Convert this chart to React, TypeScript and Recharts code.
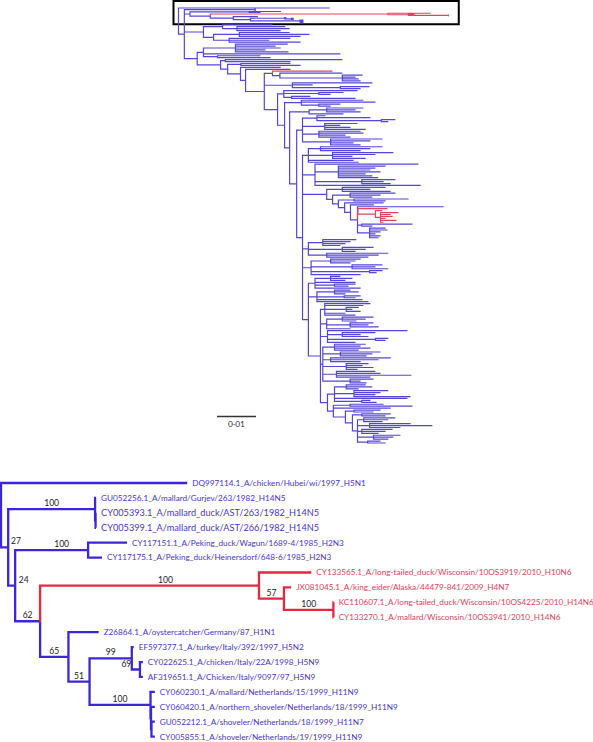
import React from 'react';
import { ComposedChart, Line, Scatter, XAxis, YAxis, ReferenceArea, ReferenceLine } from 'recharts';

// Phylogeny drawn as a rectangular tree. Branch lengths are in 0.001 subst./site.
// Lower panel = the boxed clade, upper panel = the whole tree.

const RED_TAXA = [
  'CY133565.1_A/long-tailed_duck/Wisconsin/10OS3919/2010_H10N6',
  'JX081045.1_A/king_eider/Alaska/44479-841/2009_H4N7',
  'KC110607.1_A/long-tailed_duck/Wisconsin/10OS4225/2010_H14N6',
  'CY133270.1_A/mallard/Wisconsin/10OS3941/2010_H14N6',
];
const LARGE_LABELS = [
  'CY005393.1_A/mallard_duck/AST/263/1982_H14N5',
  'CY005399.1_A/mallard_duck/AST/266/1982_H14N5',
];

// boxed clade (newick, node label = bootstrap support)
const CLADE_H = '(KC110607.1_A/long-tailed_duck/Wisconsin/10OS4225/2010_H14N6:0.05,CY133270.1_A/mallard/Wisconsin/10OS3941/2010_H14N6:0.05)100';
const CLADE_G = `(JX081045.1_A/king_eider/Alaska/44479-841/2009_H4N7:1.5,${CLADE_H}:10.3)57`;
const CLADE_F = `(CY133565.1_A/long-tailed_duck/Wisconsin/10OS3919/2010_H10N6:10.9,${CLADE_G}:5.2)100`;
const CLADE_L = '(CY022625.1_A/chicken/Italy/22A/1998_H5N9:0.6,AF319651.1_A/Chicken/Italy/9097/97_H5N9:0.6)69';
const CLADE_J = `(EF597377.1_A/turkey/Italy/392/1997_H5N2:0.4,${CLADE_L}:1.7)99`;
const CLADE_K = '(CY060230.1_A/mallard/Netherlands/15/1999_H11N9:0.9,(CY060420.1_A/northern_shoveler/Netherlands/18/1999_H11N9:0.8,(GU052212.1_A/shoveler/Netherlands/18/1999_H11N7:0.7,CY005855.1_A/shoveler/Netherlands/19/1999_H11N9:0.7):0.1):0.1)100';
const CLADE_I = `(${CLADE_J}:8.8,${CLADE_K}:12.7)51`;
const CLADE_E = `(Z26864.1_A/oystercatcher/Germany/87_H1N1:6.3,${CLADE_I}:4.4)65`;
const CLADE_D = `(${CLADE_F}:45.6,${CLADE_E}:5.9)62`;
const CLADE_P = '(CY117151.1_A/Peking_duck/Wagun/1689-4/1985_H2N3:8.1,CY117175.1_A/Peking_duck/Heinersdorf/648-6/1985_H2N3:2.9)100';
const CLADE_C = `(${CLADE_P}:15.2,${CLADE_D}:5.2)24`;
const CLADE_B = '(GU052256.1_A/mallard/Gurjev/263/1982_H14N5:0.2,(CY005393.1_A/mallard_duck/AST/263/1982_H14N5:0.1,CY005399.1_A/mallard_duck/AST/266/1982_H14N5:0.1):0.1)100';
const CLADE_A = `(${CLADE_B}:18.1,${CLADE_C}:1.45)27`;
const BOX_TREE = `(DQ997114.1_A/chicken/Hubei/wi/1997_H5N1:38.8,${CLADE_A}:1.5)`;

// rest of the big tree, hanging off node "27" (unnamed tips, "r" = red tip)
const N19 = '((:8.1,:6.3,:4.8):1.6,(:10.5,:16.1,:7.9):3.1,(:7.9,:6.1,:4.3):1.1,(:6.9,:5.1,:3.8):4.1,(:3.3,:4.6):2.6)';
const N18 = `((:7.4,:6.1):2.4,${N19}:1.3)`;
const N17 = `((:6.8,:5):2.2,${N18}:1.8)`;
const N16 = `((:8.6,:16):4.3,:14.7,${N17}:3.1)`;
const K13 = '((:5,:6.7,:3.2):3,(:8.8,:6.8,:5.5,:14.5):5,:18.7,(:2.2,:3.8):7)';
const N15 = `(${K13}:1.8,${N16}:1.5)`;
const K9 = '(:11.7,:9.9,(:3.2,:1.6,:3.7):5.5,:5.3,:7.9)';
const K10 = '((:8,:6,:3.6):4,(:6,:4.7,:7.3):6,:6.1)';
const K11 = '(:20.5,(:8.5,:4.7,:6.7):3.8,(:3.3,:2.6):12.3,:7.2)';
const K12 = '((:8,:6.7,:9.2,:6.2):3,(:10.3,:8.2,:6.7):4.5,(:15.4,:12.3,:7.7):2,(:5.7,:4.2,:7,:2.9):6,(:10,:11.3,:19.2,:8.7):3.5,(:6,:2.7,:4.2):7)';
const N14 = `(${K9}:1.1,${K10}:1.6,${K11}:1.8,${K12}:0.6,${N15}:1.8)`;
const K7 = '((:2.5,:5.6,:3.8):4,:10.4,(:5.4,:3.6):5,:11.7)';
const K8 = '((:4.1,:6.2,:2.8):4.5,(:4.2,:2.9):7,:11.7,:13.2)';
const N13 = `(${K7}:1.7,${K8}:2.2,${N14}:3.1)`;
const K1 = '((:15.9,:12.8,:10.3):3.1,(:15.6,:11,:5.1,:8.5):6.2,:11.6,:12.9)';
const K2 = '(:26.5,(:12.1,:9.5,:8.2,:10.8,:7,:8.7,:10.2):6,(:8.6,:5.6,:7.4):12,:27.1)';
const M = '(:22.1,(r:7.6,(r:1.8,(r:4.6,r:2.6,r:3.1,r:1.3,r:4.1,r:0.8):1.3):4.5):0.1,(:13,:2.7):1.1,(:4.1,:4.6,:2.8,:1.5,:2.8,:2.3):3.1)';
const LD5 = `(:6,${M}:1.8)`;
const LD4 = `(:10,${LD5}:1.5)`;
const LD3 = `((:14,:8.1):4,${LD4}:1.6)`;
const LD2 = `((:11.6,:7.8,:5.7):4.5,${LD3}:1.5)`;
const LAD = `((:11.1,:7.2,:12.4):4,${LD2}:1.5)`;
const K5 = '((:8.6,:7.1,:5.8,:4.5):3.7,(:8,:6,:3.4):8.7,(:15.8,:13.3,:10.7):4.7)';
const K6 = '((:7.7,:6.4,:5.1):5,(:7.8,:6,:9.3):10.5,(:3.3,:1.8):15,:12.7)';
const N12 = `(${K1}:1.5,${K2}:3.2,${LAD}:6.2,${K5}:1.5,${K6}:2.2,${N13}:1.5)`;
const S11 = '((:2.2,:13.7,(:3.6,:1.8):16.5):3.7,(:8.4,:4,:6.6,:10.5):5.7,(:10.7,:11.4,:6.8,:8.1):4.2,(:13.3,:10.2,:5.9,:7.7):7.2)';
const N11 = `(${S11}:1.5,${N12}:1.5)`;
const N10 = `(((:9.4,:7.4,:8.7):4.5,:8.8):5,${N11}:1.8)`;
const N9 = `((:15.9,:19,(:5.5,:3):4.5):4.3,${N10}:1.3)`;
const N8 = `((:18.9,(:6.3,:3):9,(:4.8,:16.4):2):1.6,${N9}:1.8)`;
const Q = '(r:15.4,(:16,(:5.2,:3.4,:4.2,:4.7):16):1.9)';
const L85 = '(:20.5,:5.2,(:7.5,:5.2):12.3)';
const N7 = `(${Q}:2.1,${L85}:7.2,${N8}:3.4)`;
const N6 = `(:11.5,${N7}:4.8)`;
const N5 = `(:10.3,${N6}:1.3)`;
const N4 = `((:12.7,:15.3):3.4,${N5}:3.3)`;
const N3 = `((:30,:16.7):1.2,${N4}:1.8)`;
const C2 = '((:13.4,:10.3,:11.6,:7.7,:13.6):8.2,:35.1,(:11,:13.6):3.6)';
const N2 = `(${C2}:1.6,${N3}:6)`;
const C1 = '((:12.8,(:12.4,:13.5,:11.2):3.7):4.9,((:12.9,:18,:15.7):6.6,(:15.7,:10.3,:18.3):4):2.6)';
const REST = `(${C1}:4.9,${N2}:3.3)`;

const SCALE_BAR = 0.01;
const UNIT = 0.001;

// label nudges (px) where the support value would collide with a line
const NUDGE: Record<string, number> = {
  '27@GU052256.1': 11.5,
  '24@CY117151.1': 12,
  '100@CY117151.1': 10,
  '100@CY133565.1': 16,
  '69@CY022625.1': -9.5,
};

const W = 593;
const TOP_H = 460;
const BOT_H = 282;
const TOP_ROOT_PX = 178.5;
const TOP_PXU = 3.9;
const TOP_Y0 = 8;
const TOP_Y1 = 443;
const BOX_ROW_STEP = 0.45;
const BOT_ROOT_PX = 1;
const BOT_PXU = 4.8;
const BOT_Y0 = 23;
const BOT_ROW = 14.92;

const BLUE = '#3b27d8';
const BLUE_TEXT = '#4736d2';
const RED = '#e8263f';
const RED_TEXT = '#e5405a';
const TOP_BLUE = '#5446d8';
const TOP_RED = '#e4425f';

type TNode = {
  name: string;
  len: number;
  children: TNode[];
  x: number;
  y: number;
  parent?: TNode;
  red: boolean;
  compact: boolean;
};

function parseNewick(s: string): TNode {
  let i = 0;
  const readLabel = () => {
    let t = '';
    while (i < s.length && !',:()'.includes(s[i])) t += s[i++];
    return t.trim();
  };
  const node = (): TNode => {
    const n: TNode = { name: '', len: 0, children: [], x: 0, y: 0, red: false, compact: false };
    if (s[i] === '(') {
      i++;
      n.children.push(node());
      while (s[i] === ',') {
        i++;
        n.children.push(node());
      }
      i++;
    }
    n.name = readLabel();
    if (s[i] === ':') {
      i++;
      n.len = parseFloat(readLabel());
    }
    return n;
  };
  return node();
}

function layout(root: TNode, step: (n: TNode) => number) {
  let row = -1;
  let first = true;
  const walk = (n: TNode, x: number, parent?: TNode) => {
    n.x = x;
    n.parent = parent;
    if (!n.children.length) {
      row = first ? 0 : row + step(n);
      first = false;
      n.y = row;
      n.red = n.name === 'r' || RED_TAXA.includes(n.name);
      return;
    }
    n.children.forEach((c) => walk(c, x + c.len, n));
    n.y = (n.children[0].y + n.children[n.children.length - 1].y) / 2;
    n.red = n.children.every((c) => c.red);
  };
  walk(root, 0);
  return row;
}

type Pt = { x: number | null; y: number | null };

// one elbow per branch, nulls break the polyline
function branchPaths(root: TNode) {
  const blue: Pt[] = [];
  const red: Pt[] = [];
  const walk = (n: TNode) =>
    n.children.forEach((c) => {
      const out = c.red ? red : blue;
      out.push({ x: n.x, y: n.y }, { x: n.x, y: c.y }, { x: c.x, y: c.y }, { x: null, y: null });
      walk(c);
    });
  walk(root);
  return { blue, red };
}

function firstLeaf(n: TNode): TNode {
  return n.children.length ? firstLeaf(n.children[0]) : n;
}

function labels(root: TNode) {
  const leaves: any[] = [];
  const supports: any[] = [];
  const walk = (n: TNode) => {
    if (!n.children.length) {
      leaves.push({ x: n.x, y: n.y, text: n.name, red: n.red, big: LARGE_LABELS.includes(n.name) });
      return;
    }
    if (n.name && n.parent) {
      const key = `${n.name}@${firstLeaf(n).name.split('_')[0]}`;
      supports.push({ x: (n.parent.x + n.x) / 2, y: n.y, text: n.name, dx: NUDGE[key] || 0 });
    }
    n.children.forEach(walk);
  };
  walk(root);
  return { leaves, supports };
}

// lower panel
const bottomTree = parseNewick(BOX_TREE);
layout(bottomTree, () => 1);
const botPaths = branchPaths(bottomTree);
const botLabels = labels(bottomTree);

// upper panel: boxed clade (compressed rows) + rest of the tree
const topTree = parseNewick(BOX_TREE);
const markCompact = (n: TNode) => {
  n.compact = true;
  n.children.forEach(markCompact);
};
markCompact(topTree);
topTree.children[1].children.push(...parseNewick(REST).children);
const topMaxRow = layout(topTree, (n) => (n.compact ? BOX_ROW_STEP : 1));
const topPaths = branchPaths(topTree);

const boxLeaves: TNode[] = [];
const gatherBox = (n: TNode) => {
  if (!n.children.length && n.compact) boxLeaves.push(n);
  n.children.forEach(gatherBox);
};
gatherBox(topTree);

const TOP_ROW = (TOP_Y1 - TOP_Y0) / topMaxRow;
const TOP_X_DOMAIN = [-TOP_ROOT_PX / TOP_PXU, (W - TOP_ROOT_PX) / TOP_PXU];
const TOP_Y_DOMAIN = [-TOP_Y0 / TOP_ROW, (TOP_H - TOP_Y0) / TOP_ROW];
const BOT_X_DOMAIN = [-BOT_ROOT_PX / BOT_PXU, (W - BOT_ROOT_PX) / BOT_PXU];
const BOT_Y_DOMAIN = [-BOT_Y0 / BOT_ROW, (BOT_H - BOT_Y0) / BOT_ROW];

const box = {
  x1: -5 / TOP_PXU,
  x2: Math.max(...boxLeaves.map((n) => n.x)) + 10 / TOP_PXU,
  y1: Math.min(...boxLeaves.map((n) => n.y)) - 7 / TOP_ROW,
  y2: Math.max(...boxLeaves.map((n) => n.y)) + 1.4 / TOP_ROW,
};

const sbX0 = (217 - TOP_ROOT_PX) / TOP_PXU;
const sbRow = (416.5 - TOP_Y0) / TOP_ROW;
const scaleBarSegment = [
  { x: sbX0, y: sbRow },
  { x: sbX0 + SCALE_BAR / UNIT, y: sbRow },
];

const FONT = 'Lato, "Open Sans", sans-serif';

const LeafLabel = (p: any) => (
  <text
    x={p.cx + 5}
    y={p.cy}
    dy="0.35em"
    fontSize={p.payload.big ? 9.2 : 8.2}
    fontFamily={FONT}
    fill={p.payload.red ? RED_TEXT : BLUE_TEXT}
  >
    {p.payload.text}
  </text>
);

const SupportLabel = (p: any) => (
  <text x={p.cx + p.payload.dx} y={p.cy - 3} textAnchor="middle" fontSize={8.6} fontFamily={FONT} fill="#1a1a1a">
    {p.payload.text}
  </text>
);

const noMargin = { top: 0, right: 0, bottom: 0, left: 0 };

export default function App() {
  return (
    <div style={{ position: 'absolute', left: 0, top: 0, width: W, height: TOP_H + BOT_H, background: '#fff' }}>
      <ComposedChart width={W} height={TOP_H} margin={noMargin}>
        <XAxis type="number" dataKey="x" domain={TOP_X_DOMAIN} hide allowDataOverflow />
        <YAxis type="number" dataKey="y" domain={TOP_Y_DOMAIN} hide reversed allowDataOverflow />
        <ReferenceArea
          x1={box.x1}
          x2={box.x2}
          y1={box.y1}
          y2={box.y2}
          fill="none"
          stroke="#000"
          strokeWidth={2}
          ifOverflow="visible"
        />
        <Line
          data={topPaths.blue}
          dataKey="y"
          type="linear"
          stroke={TOP_BLUE}
          strokeWidth={1.2}
          dot={false}
          activeDot={false}
          isAnimationActive={false}
        />
        <Line
          data={topPaths.red}
          dataKey="y"
          type="linear"
          stroke={TOP_RED}
          strokeWidth={1.2}
          dot={false}
          activeDot={false}
          isAnimationActive={false}
        />
        <ReferenceLine
          segment={scaleBarSegment}
          stroke="#333"
          strokeWidth={1.4}
          ifOverflow="visible"
          label={{ value: '0·01', position: 'bottom', offset: 5, fontSize: 8.4, fontFamily: FONT, fill: '#333' }}
        />
      </ComposedChart>
      <ComposedChart width={W} height={BOT_H} margin={noMargin}>
        <XAxis type="number" dataKey="x" domain={BOT_X_DOMAIN} hide allowDataOverflow />
        <YAxis type="number" dataKey="y" domain={BOT_Y_DOMAIN} hide reversed allowDataOverflow />
        <Line
          data={botPaths.blue}
          dataKey="y"
          type="linear"
          stroke={BLUE}
          strokeWidth={2.3}
          dot={false}
          activeDot={false}
          isAnimationActive={false}
        />
        <Line
          data={botPaths.red}
          dataKey="y"
          type="linear"
          stroke={RED}
          strokeWidth={2.3}
          dot={false}
          activeDot={false}
          isAnimationActive={false}
        />
        <Scatter data={botLabels.leaves} shape={LeafLabel} isAnimationActive={false} />
        <Scatter data={botLabels.supports} shape={SupportLabel} isAnimationActive={false} />
      </ComposedChart>
    </div>
  );
}
